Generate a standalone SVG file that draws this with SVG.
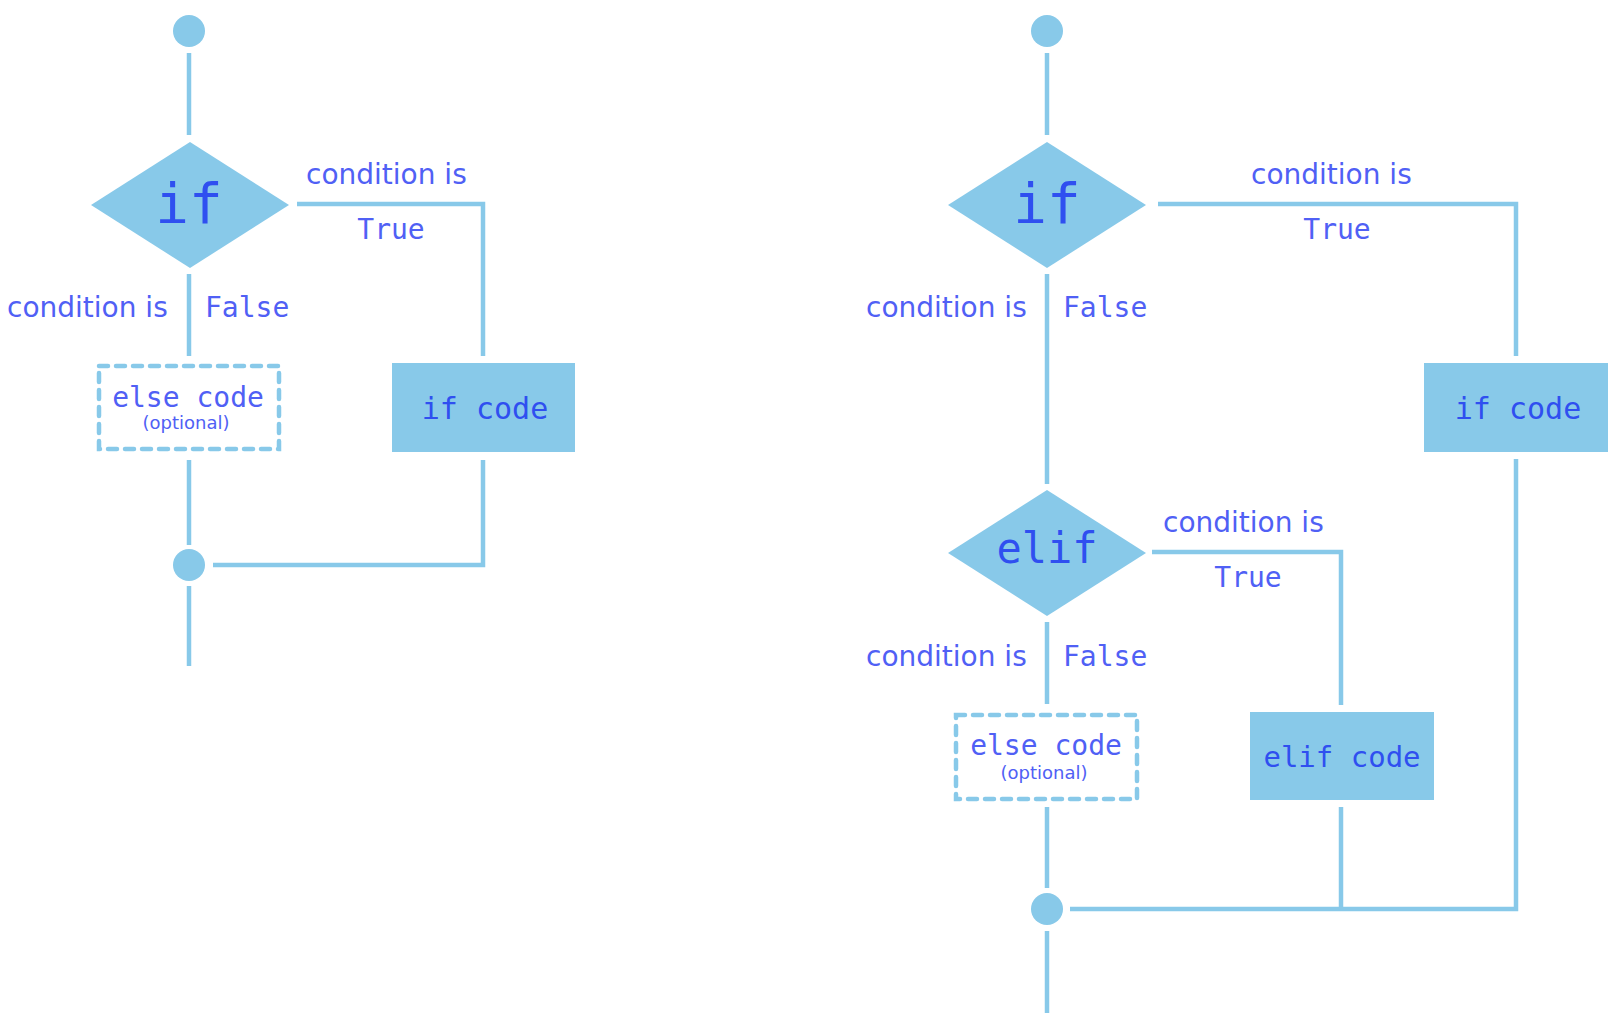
<svg xmlns="http://www.w3.org/2000/svg" width="1624" height="1030" viewBox="0 0 1624 1030">
<style>
.ln{fill:none;stroke:#88c9e9;stroke-width:4.5;stroke-linejoin:miter;stroke-linecap:butt}
.shape{fill:#88c9e9;stroke:none}
.dash{fill:none;stroke:#88c9e9;stroke-width:4.5;stroke-dasharray:9 8;stroke-linecap:round}
.lbl{font-family:"DejaVu Sans",Verdana,sans-serif;font-size:28px;fill:#5060f5}
.mono{font-family:"DejaVu Sans Mono","Liberation Mono",monospace;font-size:28px;fill:#5060f5}
.code{font-family:"DejaVu Sans Mono","Liberation Mono",monospace;fill:#2f4ff0;text-anchor:middle}
.opt{font-family:"DejaVu Sans",Verdana,sans-serif;font-size:18px;fill:#5060f5;text-anchor:middle}
</style>
<rect width="1624" height="1030" fill="#ffffff"/>
<g id="connectors">
<line class="ln" x1="189" y1="53" x2="189" y2="135"/>
<polyline class="ln" points="297,204 483,204 483,356"/>
<line class="ln" x1="189" y1="274" x2="189" y2="356"/>
<line class="ln" x1="189" y1="460" x2="189" y2="545"/>
<polyline class="ln" points="483,460 483,565 213,565"/>
<line class="ln" x1="189" y1="586" x2="189" y2="666"/>
<line class="ln" x1="1047" y1="53" x2="1047" y2="135"/>
<polyline class="ln" points="1158,204 1516,204 1516,356"/>
<line class="ln" x1="1047" y1="274" x2="1047" y2="484"/>
<polyline class="ln" points="1152,552 1341,552 1341,705"/>
<line class="ln" x1="1047" y1="622" x2="1047" y2="704"/>
<line class="ln" x1="1047" y1="807" x2="1047" y2="888"/>
<line class="ln" x1="1341" y1="807" x2="1341" y2="909"/>
<polyline class="ln" points="1516,459 1516,909 1070,909"/>
<line class="ln" x1="1047" y1="931" x2="1047" y2="1013"/>
</g>
<g id="left-start"><circle class="shape" cx="189" cy="31" r="16"/></g>
<g id="left-if">
<polygon class="shape" points="91,205 190,142 289,205 190,268"/>
<text class="code" x="189" y="223" font-size="56">if</text>
</g>
<g id="left-labels">
<text class="lbl" x="306" y="184">condition is</text>
<text class="mono" x="391" y="239" text-anchor="middle">True</text>
<text class="lbl" x="7" y="317">condition is</text>
<text class="mono" x="205" y="317">False</text>
</g>
<g id="left-else">
<rect class="dash" x="99" y="366" width="180" height="83"/>
<text class="mono" x="188" y="407" text-anchor="middle">else code</text>
<text class="opt" x="186" y="429">(optional)</text>
</g>
<g id="left-ifcode">
<rect class="shape" x="392" y="363" width="183" height="89"/>
<text class="code" x="485" y="419" font-size="30">if code</text>
</g>
<g id="left-merge"><circle class="shape" cx="189" cy="565" r="16"/></g>

<g id="right-start"><circle class="shape" cx="1047" cy="31" r="16"/></g>
<g id="right-if">
<polygon class="shape" points="948,205 1047,142 1146,205 1047,268"/>
<text class="code" x="1047" y="223" font-size="56">if</text>
</g>
<g id="right-if-labels">
<text class="lbl" x="1251" y="184">condition is</text>
<text class="mono" x="1337" y="239" text-anchor="middle">True</text>
<text class="lbl" x="866" y="317">condition is</text>
<text class="mono" x="1063" y="317">False</text>
</g>
<g id="right-ifcode">
<rect class="shape" x="1424" y="363" width="184" height="89"/>
<text class="code" x="1518" y="419" font-size="30">if code</text>
</g>
<g id="right-elif">
<polygon class="shape" points="948,553 1047,490 1146,553 1047,616"/>
<text class="code" x="1047" y="563" font-size="42">elif</text>
</g>
<g id="right-elif-labels">
<text class="lbl" x="1163" y="532">condition is</text>
<text class="mono" x="1248" y="587" text-anchor="middle">True</text>
<text class="lbl" x="866" y="666">condition is</text>
<text class="mono" x="1063" y="666">False</text>
</g>
<g id="right-else">
<rect class="dash" x="956" y="715" width="181" height="84"/>
<text class="mono" x="1046" y="755" text-anchor="middle">else code</text>
<text class="opt" x="1044" y="779">(optional)</text>
</g>
<g id="right-elifcode">
<rect class="shape" x="1250" y="712" width="184" height="88"/>
<text class="code" x="1342" y="767" font-size="29">elif code</text>
</g>
<g id="right-merge"><circle class="shape" cx="1047" cy="909" r="16"/></g>
</svg>
